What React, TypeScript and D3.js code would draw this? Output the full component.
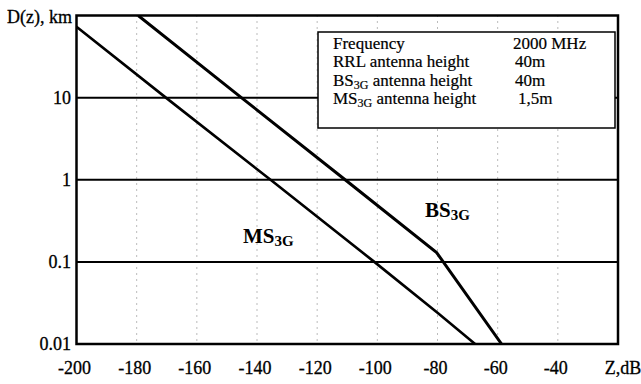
import React from "react";
import * as d3 from "d3";

const xTicks = [-200, -180, -160, -140, -120, -100, -80, -60, -40];
const yTicks = [0.01, 0.1, 1, 10];
const yTickLabels = ["0.01", "0.1", "1", "10"];
const gridSolid = [0.1, 1, 10];

const bsZ = [-179.5, -145.2, -110.7, -80.3, -58.7];
const bsD = [100, 10, 1, 0.13, 0.01];
const msZ = [-200, -170.3, -135.5, -101, -80, -67.5];
const msD = [73, 10, 1, 0.1, 0.024, 0.01];

const legendLabels = [
  { main: "Frequency", sub: "", rest: "", value: "2000 MHz" },
  { main: "RRL antenna height", sub: "", rest: "", value: "40m" },
  { main: "BS", sub: "3G", rest: " antenna height", value: "40m" },
  { main: "MS", sub: "3G", rest: " antenna height", value: "1,5m" },
];
const legendValueX = [513, 515, 515, 518];

export default function App() {
  const W = 641, H = 384;
  const L = 76.5, R = 618, T = 15.5, B = 344;
  const x = d3.scaleLinear().domain([-200, -20]).range([L, R]);
  const y = d3.scaleLog().domain([0.01, 100]).range([B, T]);
  const line = d3
    .line<[number, number]>()
    .x((d) => x(d[0]))
    .y((d) => y(d[1]));
  const bs: [number, number][] = bsZ.map((z, i) => [z, bsD[i]]);
  const ms: [number, number][] = msZ.map((z, i) => [z, msD[i]]);
  const font = "'Liberation Serif', 'Times New Roman', serif";

  return (
    <svg
      width={W}
      height={H}
      style={{ position: "absolute", left: 0, top: 0, background: "#fff" }}
      fontFamily={font}
    >
      <defs>
        <clipPath id="plot">
          <rect x={L} y={T} width={R - L} height={B - T} />
        </clipPath>
      </defs>
      {xTicks.slice(1).map((t) => (
        <line
          key={"v" + t}
          x1={x(t)}
          x2={x(t)}
          y1={T}
          y2={B}
          stroke="#777"
          strokeWidth={1}
          strokeDasharray="1 5"
        />
      ))}
      {gridSolid.map((v) => (
        <line
          key={"h" + v}
          x1={L}
          x2={R}
          y1={y(v)}
          y2={y(v)}
          stroke="#000"
          strokeWidth={2}
        />
      ))}
      <g clipPath="url(#plot)">
        <path d={line(bs) || ""} fill="none" stroke="#000" strokeWidth={3} />
        <path d={line(ms) || ""} fill="none" stroke="#000" strokeWidth={2.6} />
      </g>
      <rect x={L} y={T} width={R - L} height={B - T} fill="none" stroke="#000" strokeWidth={2.5} />
      <rect x={318} y={32} width={297} height={96} fill="#fff" stroke="#000" strokeWidth={1.5} />
      {legendLabels.map((r, i) => {
        const by = 49 + i * 18.3;
        return (
          <g key={"lg" + i} fontSize={17} stroke="#000" strokeWidth={0.2}>
            <text x={333} y={by}>
              {r.main}
              {r.sub && (
                <tspan fontSize={12} dy={3}>
                  {r.sub}
                </tspan>
              )}
              {r.rest && <tspan dy={r.sub ? -3 : 0}>{r.rest}</tspan>}
            </text>
            <text x={legendValueX[i]} y={by}>
              {r.value}
            </text>
          </g>
        );
      })}
      {yTicks.map((v, i) => (
        <text
          key={"yt" + v}
          x={71}
          y={y(v) + 6}
          textAnchor="end"
          fontSize={18}
          stroke="#000"
          strokeWidth={0.3}
        >
          {yTickLabels[i]}
        </text>
      ))}
      <text x={72} y={23} textAnchor="end" fontSize={18} stroke="#000" strokeWidth={0.3}>
        D(z), km
      </text>
      {xTicks.map((t) => (
        <text
          key={"xt" + t}
          x={x(t) - 2}
          y={374}
          textAnchor="middle"
          fontSize={18}
          stroke="#000"
          strokeWidth={0.3}
        >
          {t}
        </text>
      ))}
      <text x={x(-20) + 5} y={374} textAnchor="middle" fontSize={18} stroke="#000" strokeWidth={0.3}>
        Z,dB
      </text>
      <text x={243} y={243} fontSize={21} fontWeight="bold">
        MS
        <tspan fontSize={15} dy={3}>
          3G
        </tspan>
      </text>
      <text x={425} y={217} fontSize={21} fontWeight="bold">
        BS
        <tspan fontSize={15} dy={3}>
          3G
        </tspan>
      </text>
    </svg>
  );
}
